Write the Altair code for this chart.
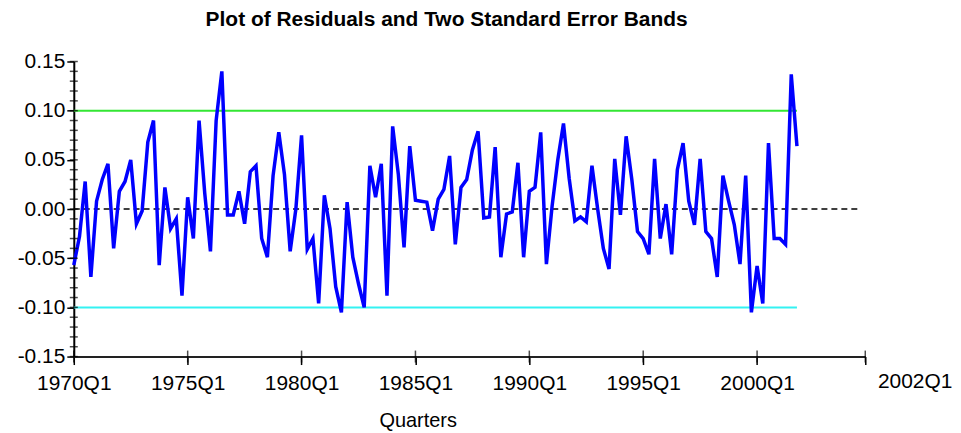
import altair as alt
import pandas as pd

# Residuals, quarterly from 1970Q1
residuals = [
    -0.057, -0.028, 0.028, -0.069, 0.008, 0.030, 0.046, -0.040, 0.018, 0.028,
    0.050, -0.015, -0.002, 0.068, 0.090, -0.057, 0.022, -0.020, -0.010, -0.088,
    0.012, -0.030, 0.090, 0.016, -0.043, 0.090, 0.140, -0.006, -0.006, 0.018,
    -0.015, 0.038, 0.044, -0.030, -0.049, 0.034, 0.078, 0.035, -0.043, 0.000,
    0.075, -0.041, -0.030, -0.096, 0.014, -0.020, -0.079, -0.105, 0.007, -0.049,
    -0.076, -0.100, 0.044, 0.012, 0.046, -0.088, 0.084, 0.035, -0.039, 0.064,
    0.009, 0.008, 0.007, -0.022, 0.010, 0.020, 0.054, -0.036, 0.022, 0.030,
    0.060, 0.079, -0.009, -0.008, 0.063, -0.049, -0.005, -0.003, 0.047, -0.049,
    0.018, 0.022, 0.078, -0.056, 0.003, 0.050, 0.087, 0.031, -0.012, -0.008,
    -0.013, 0.044, 0.000, -0.040, -0.061, 0.051, -0.006, 0.074, 0.030, -0.023,
    -0.030, -0.046, 0.051, -0.030, 0.005, -0.046, 0.040, 0.067, 0.008, -0.016,
    0.051, -0.023, -0.030, -0.069, 0.034, 0.008, -0.016, -0.056, 0.034, -0.105,
    -0.058, -0.096, 0.067, -0.030, -0.030, -0.036, 0.137, 0.064,
]

band_levels = [0.10, -0.10]
band_colors = ["#33e633", "#33f2f2"]
y_major = [-0.15, -0.10, -0.05, 0.00, 0.05, 0.10, 0.15]
y_minor = [-0.15, -0.14, -0.13, -0.12, -0.11, -0.10, -0.09, -0.08, -0.07, -0.06,
           -0.05, -0.04, -0.03, -0.02, -0.01, 0.00, 0.01, 0.02, 0.03, 0.04,
           0.05, 0.06, 0.07, 0.08, 0.09, 0.10, 0.11, 0.12, 0.13, 0.14, 0.15]
x_ticks = [0, 20, 40, 60, 80, 100, 120, 139]
x_end = 139
zero_end = 138
end_label = "2002Q1"

last_q = len(residuals) - 1
df = pd.DataFrame({"q": list(range(len(residuals))), "resid": residuals})
bands = pd.DataFrame({"y": band_levels, "x0": [0, 0], "x1": [last_q, last_q], "c": band_colors})
zero = pd.DataFrame({"y": [0.0], "x0": [0], "x1": [zero_end]})
minor = pd.DataFrame({"y": y_minor})
xt = pd.DataFrame({"q": x_ticks})
endlab = pd.DataFrame({"q": [x_end], "label": [end_label]})

W, H = 794, 296
FONT = "Liberation Sans"
LFS = 21
xscale = alt.Scale(domain=[0, x_end], nice=False, zero=False)
yscale = alt.Scale(domain=[-0.15, 0.15], nice=False)

xaxis = alt.Axis(
    values=x_ticks,
    labelExpr="datum.value > 130 ? '' : (1970 + datum.value / 4) + 'Q1'",
    title="Quarters", titleFont=FONT, titleFontSize=20, titleFontWeight="normal",
    titleX=345, titleY=64, titleBaseline="middle", titleAlign="center",
    labelFont=FONT, labelFontSize=LFS, labelPadding=8, labelColor="black",
    tickSize=8, tickColor="black", tickWidth=1.5,
    domainColor="#222222", domainWidth=2, grid=False, labelFlush=False,
)
yaxis = alt.Axis(
    values=y_major,
    labelExpr="(datum.value < -0.0001 ? '-' : '') + format(abs(datum.value), '.2f')",
    title=None, labelFont=FONT, labelFontSize=LFS, labelPadding=2, labelColor="black",
    tickSize=7, tickColor="black", tickWidth=1.5,
    domainColor="black", domainWidth=2, grid=False, minExtent=66, maxExtent=66,
)

line = alt.Chart(df).mark_line(color="#0000ff", strokeWidth=3.5).encode(
    x=alt.X("q:Q", scale=xscale, axis=xaxis),
    y=alt.Y("resid:Q", scale=yscale, axis=yaxis),
)

band_rules = alt.Chart(bands).mark_rule(strokeWidth=2).encode(
    x=alt.X("x0:Q", scale=xscale),
    x2="x1:Q",
    y=alt.Y("y:Q", scale=yscale),
    color=alt.Color("c:N", scale=None),
)

zero_rule = alt.Chart(zero).mark_rule(color="black", strokeWidth=1.5, strokeDash=[6, 4]).encode(
    x=alt.X("x0:Q", scale=xscale),
    x2="x1:Q",
    y=alt.Y("y:Q", scale=yscale),
)

minor_ticks = alt.Chart(minor).mark_tick(color="black", thickness=1.5, size=8, orient="horizontal").encode(
    y=alt.Y("y:Q", scale=yscale),
    x=alt.value(0),
)

x_cross_ticks = alt.Chart(xt).mark_tick(color="black", thickness=1.5, size=12, orient="vertical").encode(
    x=alt.X("q:Q", scale=xscale),
    y=alt.value(H),
)

end_text = alt.Chart(endlab).mark_text(font=FONT, fontSize=LFS, dx=50, baseline="middle", color="black").encode(
    x=alt.X("q:Q", scale=xscale),
    y=alt.value(H + 26),
    text="label:N",
)

chart = alt.layer(band_rules, zero_rule, line, minor_ticks, x_cross_ticks, end_text).properties(
    width=W, height=H,
    padding={"left": 0, "top": 0, "right": 0, "bottom": 0},
    title=alt.TitleParams(
        text="Plot of Residuals and Two Standard Error Bands",
        font=FONT, fontSize=21, fontWeight="bold", anchor="middle", dx=-23, offset=21, color="black",
    ),
    background="white",
).configure_view(stroke=None)

chart.save("out.html", embed_options={"renderer": "svg", "actions": False})
